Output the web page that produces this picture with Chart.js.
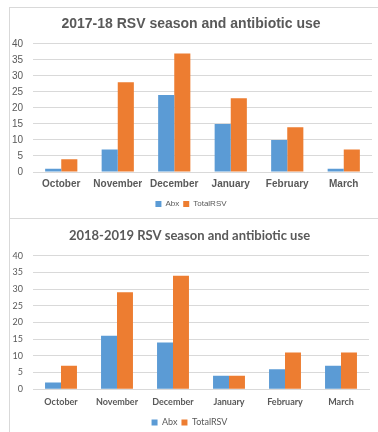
<!DOCTYPE html>
<html lang="en">
<head>
<meta charset="UTF-8">
<title>RSV season and antibiotic use</title>
<script src="https://cdn.jsdelivr.net/npm/chart.js"></script>
<style>
    body {
        margin: 0;
        background: #ffffff;
        width: 378px;
        height: 432px;
        position: relative;
        overflow: hidden;
    }
    .panel {
        position: absolute;
        left: 9px;
        border-left: 1px solid #d9d9d9;
        border-top: 1px solid #d9d9d9;
        background: #ffffff;
    }
    #p1 { top: 7px; width: 368px; height: 210px; }
    /* taller than the page on purpose: the legend's spare bottom space is cut off */
    #p2 { top: 218px; width: 368px; height: 218px; }
    canvas { display: block; }
</style>
</head>
<body>
<div class="panel" id="p1"><canvas id="chart1" width="368" height="210"></canvas></div>
<div class="panel" id="p2"><canvas id="chart2" width="368" height="218"></canvas></div>
<script>
    // months on the x axis
    const months = ['October', 'November', 'December', 'January', 'February', 'March'];

    // 2017-18 season
    const abx1718 = [1, 7, 24, 15, 10, 1];
    const rsv1718 = [4, 28, 37, 23, 14, 7];

    // 2018-19 season
    const abx1819 = [2, 16, 14, 4, 6, 7];
    const rsv1819 = [7, 29, 34, 4, 11, 11];

    // y axis ticks
    const yMax = 40;
    const yStep = 5;

    const blue = '#5b9bd5';
    const orange = '#ed7d31';
    const textGray = '#595959';

    function makeChart(id, title, abx, rsv, font, sizes) {
        const ctx = document.getElementById(id).getContext('2d');
        return new Chart(ctx, {
            type: 'bar',
            data: {
                labels: months,
                datasets: [
                    { label: 'Abx', data: abx, backgroundColor: blue, borderWidth: 0 },
                    { label: 'TotalRSV', data: rsv, backgroundColor: orange, borderWidth: 0 }
                ]
            },
            options: {
                responsive: false,
                animation: false,
                categoryPercentage: 0.57,
                barPercentage: 1.0,
                layout: { padding: { left: 0, right: sizes.right, top: 0, bottom: sizes.bottom } },
                plugins: {
                    title: {
                        display: true,
                        text: title,
                        color: textGray,
                        font: { family: font, size: sizes.title, weight: 'bold' },
                        padding: { top: sizes.titleTop, bottom: sizes.titleBottom }
                    },
                    legend: {
                        position: 'bottom',
                        labels: {
                            boxWidth: 6,
                            boxHeight: 6,
                            padding: sizes.legendPad,
                            color: textGray,
                            font: { family: font, size: sizes.legend }
                        }
                    },
                    tooltip: { enabled: false }
                },
                scales: {
                    x: {
                        grid: { display: false, drawTicks: false },
                        border: { color: '#d9d9d9' },
                        ticks: {
                            color: textGray,
                            padding: sizes.xPad,
                            maxRotation: 0,
                            font: { family: font, size: sizes.tick, weight: 'bold' }
                        }
                    },
                    y: {
                        min: 0,
                        max: yMax,
                        afterFit: function(scale) { scale.width = sizes.yWidth; },
                        grid: { color: '#d9d9d9', drawTicks: false },
                        border: { display: false },
                        ticks: {
                            stepSize: yStep,
                            color: textGray,
                            padding: 10,
                            font: { family: font, size: sizes.tick }
                        }
                    }
                }
            }
        });
    }

    makeChart('chart1', '2017-18 RSV season and antibiotic use', abx1718, rsv1718, "'Liberation Sans', Arial, sans-serif",
        { title: 14, titleTop: 8, titleBottom: 11, tick: 10, legend: 8, legendPad: 4, xPad: 6, bottom: 0, right: 6, yWidth: 23 });
    makeChart('chart2', '2018-2019 RSV season and antibiotic use', abx1819, rsv1819, "Lato, 'Open Sans', sans-serif",
        { title: 13, titleTop: 9, titleBottom: 12, tick: 9, legend: 9, legendPad: 4, xPad: 7, bottom: 0, right: 9, yWidth: 23 });
</script>
</body>
</html>
